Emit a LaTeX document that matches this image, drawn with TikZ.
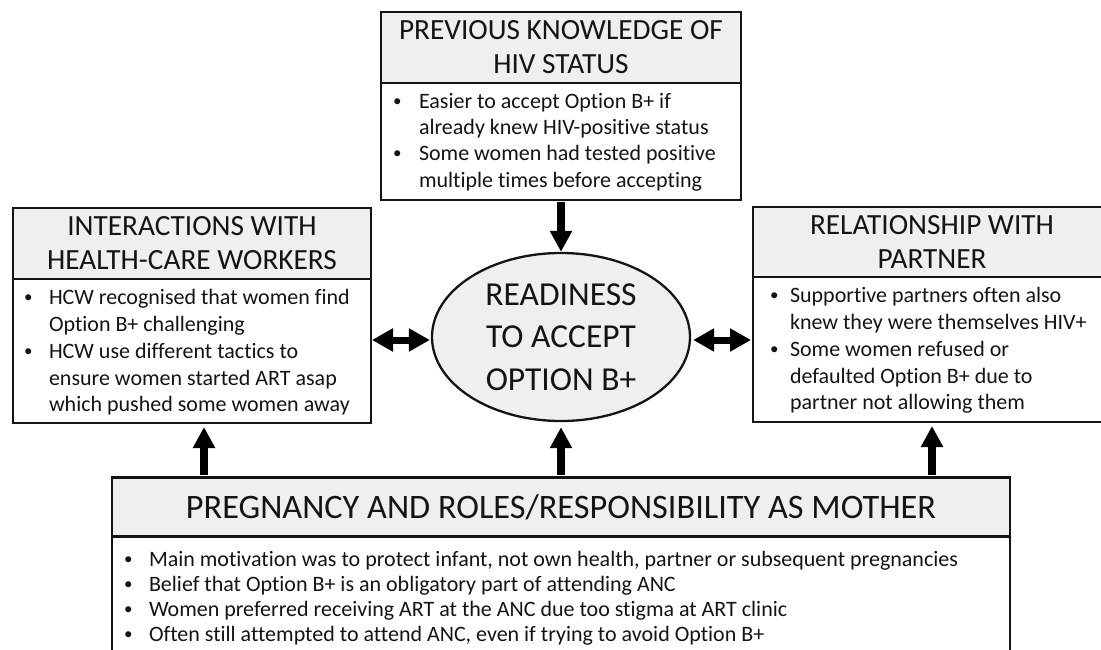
\documentclass[tikz,border=0pt]{standalone}
\usepackage{fontspec}
\setmainfont[Ligatures=NoCommon]{Carlito}
\usetikzlibrary{arrows.meta,shapes.geometric}
\definecolor{hdrgray}{RGB}{239,239,239}
\definecolor{inkcol}{RGB}{20,20,20}
\tikzset{
  box/.style={draw=inkcol, line width=2.5pt, inner sep=0pt, outer sep=0pt},
  hdrbox/.style={box, fill=hdrgray, text=inkcol, align=center,
    font=\fontsize{29.3}{34}\selectfont},
  bodybox/.style={box, fill=white},
  bodytxt/.style={inner sep=0pt, outer sep=0pt, anchor=north west, text=inkcol,
    font=\fontsize{22}{26.3}\selectfont},
  bigarrow/.style={draw=black, line width=7.5pt, -{Triangle[length=21pt,width=21pt]}},
  dblarrow/.style={draw=black, line width=7pt, {Triangle[length=21pt,width=22pt]}-{Triangle[length=21pt,width=22pt]}}
}
\newcommand{\bl}{\raisebox{2pt}{\fontsize{17}{17}\selectfont\textbullet}}
\begin{document}
\begin{tikzpicture}[x=1pt,y=-1pt]
\useasboundingbox (0,0) rectangle (1101,649);
\clip (0,0) rectangle (1101,649);

% top box
\node[hdrbox, minimum width=360pt, minimum height=71pt] (tph) at (561,47.5)
  {PREVIOUS KNOWLEDGE OF\\HIV STATUS};
\node[bodybox, minimum width=360pt, minimum height=117pt, anchor=north] (tpb) at (tph.south) {};
\node[bodytxt] (tpt) at (393,89.8) {\begin{tabular}{@{}p{26pt}@{}l@{}}
\bl & Easier to accept Option B+ if\\
    & already knew HIV-positive status\\
\bl & Some women had tested positive\\
    & multiple times before accepting
\end{tabular}};

% left box
\node[hdrbox, minimum width=358pt, minimum height=71pt] (lh) at (192,243.5)
  {INTERACTIONS WITH\\HEALTH-CARE WORKERS};
\node[bodybox, minimum width=358pt, minimum height=144pt, anchor=north] (lb) at (lh.south) {};
\node[bodytxt, font=\fontsize{22}{26.7}\selectfont] (lt) at (24,286.3) {\begin{tabular}{@{}p{25pt}@{}l@{}}
\bl & HCW recognised that women find\\
    & Option B+ challenging\\
\bl & HCW use different tactics to\\
    & ensure women started ART asap\\
    & which pushed some women away
\end{tabular}};

% right box
\node[hdrbox, minimum width=358pt, minimum height=70pt] (rh) at (932,242)
  {RELATIONSHIP WITH\\PARTNER};
\node[bodybox, minimum width=358pt, minimum height=145pt, anchor=north] (rb) at (rh.south) {};
\node[bodytxt, font=\fontsize{22}{26.7}\selectfont] (rt) at (770,284.3) {\begin{tabular}{@{}p{20pt}@{}l@{}}
\bl & Supportive partners often also\\
    & knew they were themselves HIV+\\
\bl & Some women refused or\\
    & defaulted Option B+ due to\\
    & partner not allowing them
\end{tabular}};

% bottom box
\node[hdrbox, minimum width=898pt, minimum height=59pt, font=\fontsize{34.3}{40}\selectfont] (bh) at (561,507)
  {PREGNANCY AND ROLES/RESPONSIBILITY AS MOTHER};
\node[bodybox, minimum width=898pt, minimum height=170pt, anchor=north] (bb) at (bh.south) {};
\node[bodytxt, font=\fontsize{22}{25}\selectfont] (bt) at (124,548.5) {\begin{tabular}{@{}p{25pt}@{}l@{}}
\bl & Main motivation was to protect infant, not own health, partner or subsequent pregnancies\\
\bl & Belief that Option B+ is an obligatory part of attending ANC\\
\bl & Women preferred receiving ART at the ANC due too stigma at ART clinic\\
\bl & Often still attempted to attend ANC, even if trying to avoid Option B+
\end{tabular}};

% centre ellipse
\node[ellipse, draw=inkcol, line width=2.3pt, fill=hdrgray, minimum width=258pt, minimum height=168pt,
  inner sep=0pt, align=center, text=inkcol, font=\fontsize{33.5}{42.5}\selectfont] (ell) at (561,337)
  {READINESS\\TO ACCEPT\\OPTION B+};

% connectors
\coordinate (aL) at (204,0);
\draw[bigarrow, shorten <=2pt] (tpb.south) -- (ell.north);
\draw[bigarrow, shorten <=3pt, shorten >=4pt] (bh.north -| aL) -- (lb.south -| aL);
\draw[bigarrow, shorten <=3pt, shorten >=5pt] (bh.north) -- (ell.south);
\draw[bigarrow, shorten <=3pt, shorten >=4pt] (bh.north -| rb.south) -- (rb.south);
\draw[dblarrow, shorten <=1pt, shorten >=1pt] ([yshift=-3pt]ell.west -| lb.east) -- ([yshift=-3pt]ell.west);
\draw[dblarrow, shorten <=2pt, shorten >=2pt] ([yshift=-3pt]ell.east) -- ([yshift=-3pt]ell.east -| rb.west);
\end{tikzpicture}
\end{document}
